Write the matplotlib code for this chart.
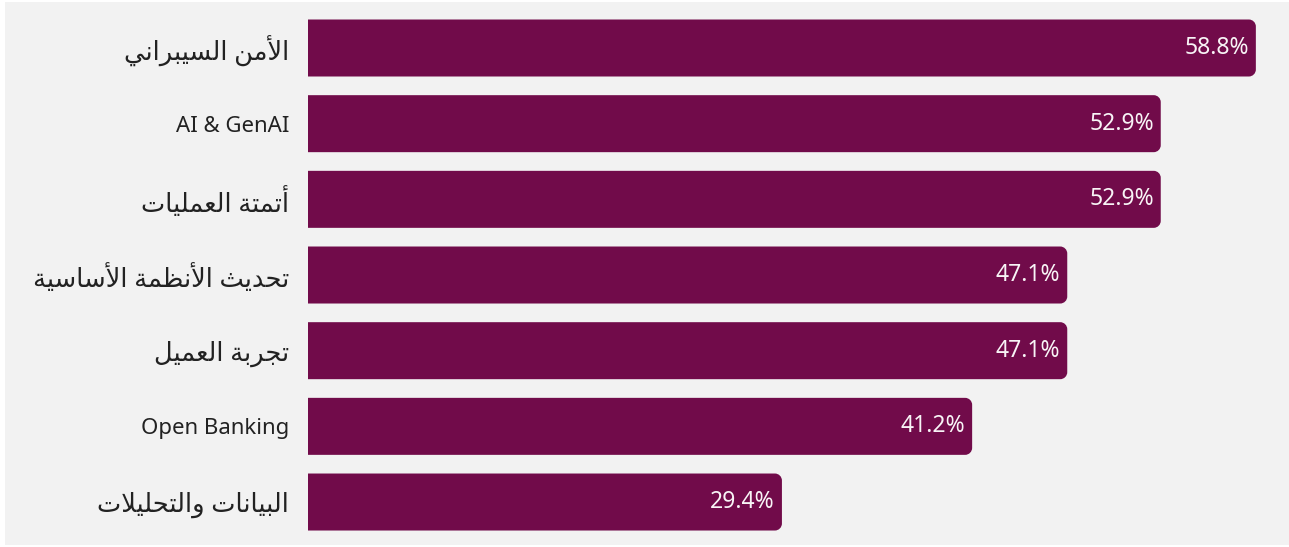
import matplotlib
matplotlib.use('Agg')
import matplotlib.pyplot as plt
from matplotlib.path import Path
from matplotlib.patches import PathPatch, Rectangle

plt.rcParams['font.family'] = ['Noto Sans', 'DejaVu Sans']

categories = ["الأمن السيبراني", "AI & GenAI", "أتمتة العمليات", "تحديث الأنظمة الأساسية",
              "تجربة العميل", "Open Banking", "البيانات والتحليلات"]
values = [58.8, 52.9, 52.9, 47.1, 47.1, 41.2, 29.4]

BAR_COLOR = "#710b4a"
BG_COLOR = "#f2f2f2"

# matplotlib does no Arabic shaping, so pick the contextual forms by hand
# base letter -> (first presentation form, joins to the next letter)
FORMS = {
    0x0622: (0xFE81, False), 0x0623: (0xFE83, False), 0x0625: (0xFE87, False),
    0x0627: (0xFE8D, False), 0x0628: (0xFE8F, True), 0x0629: (0xFE93, False),
    0x062A: (0xFE95, True), 0x062B: (0xFE99, True), 0x062C: (0xFE9D, True),
    0x062D: (0xFEA1, True), 0x062E: (0xFEA5, True), 0x062F: (0xFEA9, False),
    0x0630: (0xFEAB, False), 0x0631: (0xFEAD, False), 0x0632: (0xFEAF, False),
    0x0633: (0xFEB1, True), 0x0634: (0xFEB5, True), 0x0635: (0xFEB9, True),
    0x0636: (0xFEBD, True), 0x0637: (0xFEC1, True), 0x0638: (0xFEC5, True),
    0x0639: (0xFEC9, True), 0x063A: (0xFECD, True), 0x0641: (0xFED1, True),
    0x0642: (0xFED5, True), 0x0643: (0xFED9, True), 0x0644: (0xFEDD, True),
    0x0645: (0xFEE1, True), 0x0646: (0xFEE5, True), 0x0647: (0xFEE9, True),
    0x0648: (0xFEED, False), 0x0649: (0xFEEF, False), 0x064A: (0xFEF1, True),
}
LAM_ALEF = {0x0622: 0xFEF5, 0x0623: 0xFEF7, 0x0625: 0xFEF9, 0x0627: 0xFEFB}


def is_arabic(text):
    return any(ord(c) in FORMS for c in text)


def shape_arabic(text):
    cps = [ord(c) for c in text]
    if not is_arabic(text):
        return text
    out = []
    i = 0
    while i < len(cps):
        c = cps[i]
        if c not in FORMS:
            out.append(chr(c))
            i += 1
            continue
        prev_joins = i > 0 and cps[i - 1] in FORMS and FORMS[cps[i - 1]][1]
        if c == 0x0644 and i + 1 < len(cps) and cps[i + 1] in LAM_ALEF:
            out.append(chr(LAM_ALEF[cps[i + 1]] + (1 if prev_joins else 0)))
            i += 2
            continue
        start, dual = FORMS[c]
        next_joins = dual and i + 1 < len(cps) and cps[i + 1] in FORMS
        if prev_joins and next_joins:
            form = start + 3
        elif next_joins:
            form = start + 2
        elif prev_joins:
            form = start + 1
        else:
            form = start
        out.append(chr(form))
        i += 1
    return "".join(reversed(out))


def right_rounded_bar(y, width, height, rx, ry):
    # square on the left, rounded on the right end
    k = 0.5523
    x0, x1 = 0, width
    y0, y1 = y - height / 2, y + height / 2
    verts = [(x0, y0), (x1 - rx, y0),
             (x1 - rx + k * rx, y0), (x1, y0 + ry - k * ry), (x1, y0 + ry),
             (x1, y1 - ry),
             (x1, y1 - ry + k * ry), (x1 - rx + k * rx, y1), (x1 - rx, y1),
             (x0, y1), (x0, y0)]
    codes = [Path.MOVETO, Path.LINETO,
             Path.CURVE4, Path.CURVE4, Path.CURVE4,
             Path.LINETO,
             Path.CURVE4, Path.CURVE4, Path.CURVE4,
             Path.LINETO, Path.CLOSEPOLY]
    return Path(verts, codes)


fig = plt.figure(figsize=(12.89, 5.47), dpi=100)
fig.patch.set_facecolor("white")
fig.add_artist(Rectangle((5 / 1289, 2 / 547), 1, 543 / 547, transform=fig.transFigure,
                         facecolor=BG_COLOR, edgecolor="none", zorder=0))

ax = fig.add_axes([308 / 1289, 0, 1 - 308 / 1289, 1])
ax.set_facecolor("none")

px_per_x = 16.12
px_per_y = 75.67
ax.set_xlim(0, (1289 - 308) / px_per_x)
ax.set_ylim((547 - 48) / px_per_y, -48 / px_per_y)

bar_h = 57 / px_per_y
rx, ry = 7 / px_per_x, 7 / px_per_y
for i, v in enumerate(values):
    ax.add_patch(PathPatch(right_rounded_bar(i, v, bar_h, rx, ry),
                           facecolor=BAR_COLOR, edgecolor="none"))
    ax.annotate(f"{v}%", xy=(v, i), xytext=(-5, 0), textcoords="offset points",
                ha="right", va="center", color="#f8f4f6", fontsize=16.5)

ax.set_yticks(range(len(categories)))
ax.set_yticklabels([shape_arabic(c) for c in categories], color="#222222")
for lbl, cat in zip(ax.get_yticklabels(), categories):
    lbl.set_fontsize(18.5 if is_arabic(cat) else 16)
ax.tick_params(axis="y", length=0, pad=13.5)
ax.set_xticks([])
for s in ax.spines.values():
    s.set_visible(False)

plt.savefig("out.png", dpi=100, facecolor=fig.get_facecolor())
